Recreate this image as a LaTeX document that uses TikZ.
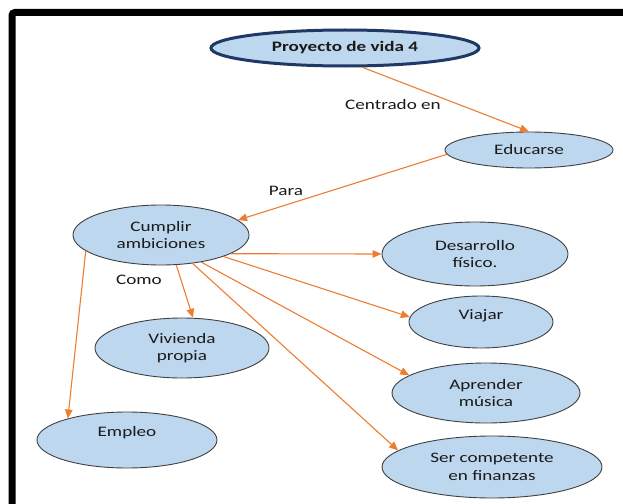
\documentclass[tikz,border=0pt]{standalone}
\usepackage{fontspec}
\setmainfont{Carlito}[FakeStretch=1.32]
\usetikzlibrary{shapes.geometric,arrows.meta}
\definecolor{fillblue}{HTML}{BDD7EE}
\definecolor{navy}{HTML}{1F3864}
\definecolor{arrorange}{HTML}{ED7D31}
\definecolor{txt}{HTML}{1A1A1A}
\tikzset{
  bubble/.style={ellipse, draw=black!75, line width=0.9pt, fill=fillblue, inner sep=0pt,
    align=center, text=txt, font=\fontsize{14.5}{17.5}\selectfont},
  mainbubble/.style={bubble, draw=navy, line width=3pt, font=\bfseries\fontsize{14.5}{17.5}\selectfont},
  conn/.style={draw=arrorange, line width=1.1pt, -{Triangle[length=9pt,width=7.5pt]}, shorten >=0pt},
  lbl/.style={text=txt, font=\fontsize{14.5}{17.5}\selectfont, inner sep=0pt}
}
\begin{document}
\begin{tikzpicture}[x=1pt,y=-1pt]
\useasboundingbox (0,0) rectangle (623,503);
\fill[white] (0,0) rectangle (623,503);
\begin{scope}
\clip (0,0) rectangle (623,503);
\draw[line width=7pt, rounded corners=3pt] (12,520) -- (12,12.5) -- (640,12.5);
\end{scope}

\node[mainbubble, minimum width=268pt, minimum height=36pt] (proy) at (345,48) {Proyecto de vida 4};
\node[bubble, minimum width=168pt, minimum height=36pt] (edu) at (529,150) {Educarse};
\node[bubble, minimum width=176pt, minimum height=60pt] (cump) at (161,235) {Cumplir\\ambiciones};
\node[bubble, minimum width=186pt, minimum height=64pt] (des) at (475,254) {Desarrollo\\físico.};
\node[bubble, minimum width=144pt, minimum height=52pt] (via) at (481,322) {Viajar\\[-8pt]\strut};
\node[bubble, minimum width=188pt, minimum height=60pt] (apr) at (486,393) {Aprender\\música};
\node[bubble, minimum width=220pt, minimum height=62pt] (ser) at (492,467) {Ser competente\\en finanzas};
\node[bubble, minimum width=174pt, minimum height=60pt] (viv) at (182,348) {Vivienda\\propia};
\node[bubble, minimum width=180pt, minimum height=56pt] (emp) at (127,440) {Empleo\\[-6pt]\strut};

\node[lbl] (lcen) at (393,105) {Centrado en};
\node[lbl] (lpara) at (286,191) {Para};
\node[lbl] (lcomo) at (139,280) {Como};

\draw[conn] (proy.-48) -- (edu.north);
\draw[conn] (edu.183) -- (cump.11);
\draw[conn] (cump.-15) -- (des.180);
\draw[conn] (cump.-19) -- (via.176);
\draw[conn] (cump.-34) -- (apr.167);
\draw[conn] (cump.-42) -- (ser.170);
\draw[conn] (cump.-63) -- (viv.70);
\draw[conn] (cump.192) -- (emp.160);
\end{tikzpicture}
\end{document}
